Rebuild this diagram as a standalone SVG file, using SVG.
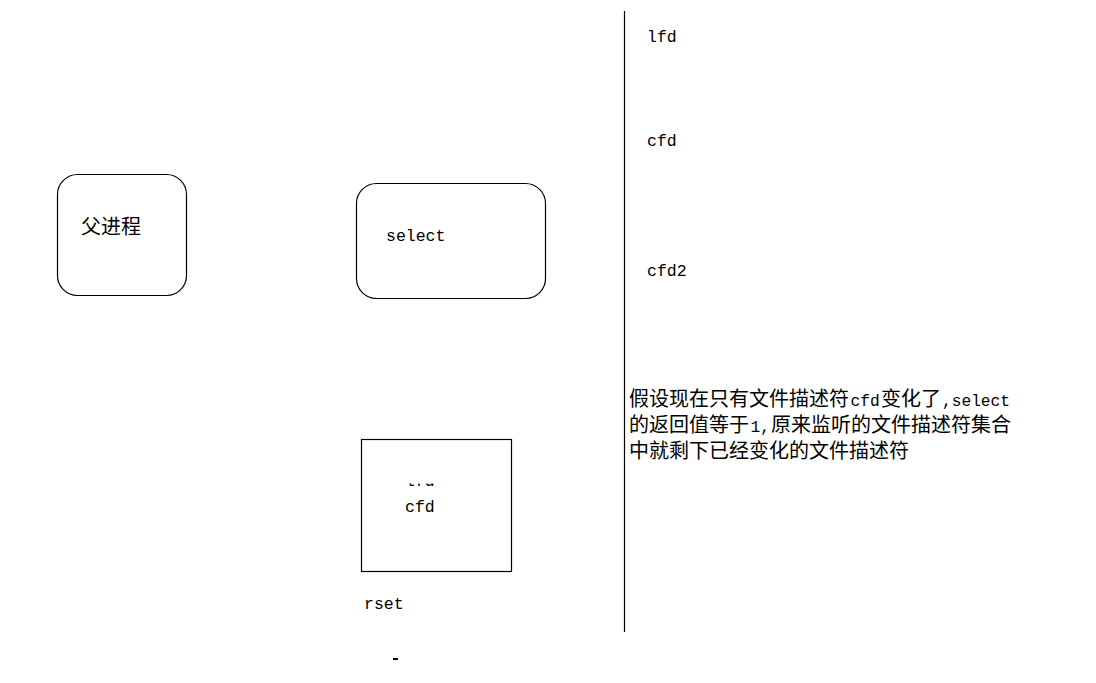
<svg xmlns="http://www.w3.org/2000/svg" width="1096" height="683" viewBox="0 0 1096 683">
<style>
.box{fill:none;stroke:#000;stroke-width:1.2}
.mono{font-family:"Liberation Mono","DejaVu Sans Mono",monospace;font-size:16.5px;fill:#000}
.cjk{font-family:"Noto Sans CJK SC","Noto Sans",sans-serif;font-size:20px;fill:#000}
.lat{font-family:"Liberation Mono","DejaVu Sans Mono",monospace;font-size:16.2px;fill:#000}
</style>
<defs>
<clipPath id="cut"><rect x="400" y="483.5" width="40" height="3"/></clipPath>
</defs>
<rect width="1096" height="683" fill="#fff"/>
<g id="connectors">
<line x1="624.5" y1="11" x2="624.5" y2="632" stroke="#000" stroke-width="1.2"/>
</g>
<g id="parent">
<rect class="box" x="57.5" y="174.5" width="129" height="121" rx="20"/>
<text class="cjk" x="81" y="233.5">父进程</text>
</g>
<g id="select">
<rect class="box" x="356.5" y="183.5" width="189" height="115" rx="20"/>
<text class="mono" x="386" y="241">select</text>
</g>
<g id="rset">
<rect class="box" x="361.5" y="439.5" width="150" height="132"/>
<text class="mono" x="405" y="486" clip-path="url(#cut)">lfd</text>
<text class="mono" x="405" y="512">cfd</text>
<text class="mono" x="364" y="609">rset</text>
</g>
<g id="fds">
<text class="mono" x="647" y="42">lfd</text>
<text class="mono" x="647" y="146">cfd</text>
<text class="mono" x="647" y="276">cfd2</text>
</g>
<g id="note">
<text class="cjk" x="629" y="405.5">假设现在只有文件描述符</text>
<text class="lat" x="850.5" y="405.5">cfd</text>
<text class="cjk" x="881" y="405.5">变化了</text>
<text class="lat" x="942" y="405.5">,select</text>
<text class="cjk" x="629" y="431.5">的返回值等于</text>
<text class="lat" x="750.5" y="431.5">1,</text>
<text class="cjk" x="771" y="431.5">原来监听的文件描述符集合</text>
<text class="cjk" x="629" y="457.5">中就剩下已经变化的文件描述符</text>
</g>
<rect x="393" y="658" width="5" height="2" fill="#000"/>
</svg>
